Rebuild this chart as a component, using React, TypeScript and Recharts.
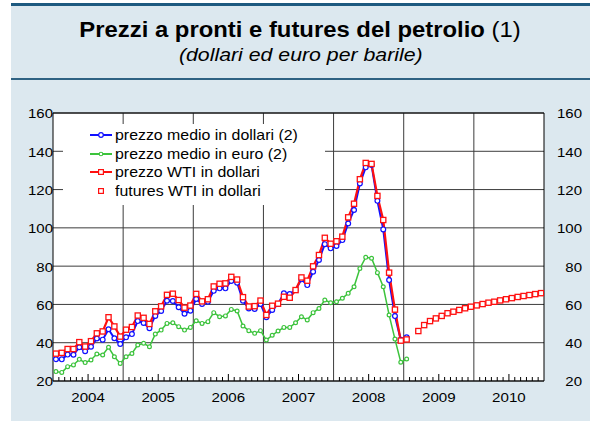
import { LineChart, Line, XAxis, YAxis, CartesianGrid, ReferenceLine, Legend } from 'recharts';

// monthly series, Jan 2004 .. Jan 2009
const PREZZO_MEDIO_USD = [
  31.4, 31.3, 33.8, 33.7, 37.6, 35.6, 37.9, 42.2, 41.6, 47.0, 42.3, 39.3,
  42.8, 44.5, 51.3, 50.3, 47.6, 54.0, 56.6, 61.9, 61.8, 58.5, 55.1, 56.7,
  62.8, 60.2, 61.4, 67.1, 68.4, 68.4, 72.3, 71.3, 61.9, 57.9, 57.6, 60.2,
  53.3, 57.1, 60.2, 65.8, 65.4, 67.5, 73.1, 70.1, 77.1, 83.2, 91.5, 89.3,
  90.5, 93.6, 102.3, 109.3, 123.2, 131.6, 132.8, 114.1, 99.2, 72.7, 53.9, 41.5,
  42.8,
];
const PREZZO_MEDIO_EUR = [
  24.9, 24.5, 27.5, 28.4, 31.3, 29.6, 31.0, 34.1, 33.6, 37.6, 32.7, 29.2,
  32.7, 34.4, 38.8, 39.7, 37.9, 44.5, 46.6, 50.1, 50.4, 48.4, 46.6, 48.0,
  51.5, 50.1, 51.0, 55.7, 53.6, 54.0, 57.4, 56.6, 48.7, 46.3, 44.9, 46.3,
  41.4, 43.9, 46.1, 48.0, 48.0, 50.4, 53.6, 51.9, 55.7, 57.9, 62.3, 60.9,
  61.4, 63.2, 65.8, 69.2, 78.8, 84.6, 84.1, 76.6, 69.2, 54.5, 41.9, 29.8,
  31.5,
];
const PREZZO_WTI = [
  34.3, 34.7, 36.7, 36.7, 40.3, 38.0, 40.8, 44.9, 45.9, 53.3, 48.5, 43.2,
  46.8, 48.2, 54.2, 53.0, 49.8, 56.4, 59.0, 65.0, 65.6, 62.3, 58.3, 59.4,
  65.5, 61.6, 62.7, 69.4, 70.8, 71.0, 74.4, 73.0, 63.8, 58.9, 59.1, 62.0,
  54.5, 59.3, 60.4, 64.0, 63.5, 67.5, 74.1, 72.4, 79.9, 85.8, 94.8, 91.7,
  93.0, 95.4, 105.5, 112.6, 125.4, 133.9, 133.4, 116.7, 104.1, 76.6, 57.3, 41.1,
  41.7,
];
// futures curve, Mar 2009 .. Dec 2010
const FUTURES_WTI = [
  46.1, 49.2, 51.3, 52.7, 54.0, 55.4, 56.2, 57.1, 58.0, 58.8,
  59.5, 60.2, 60.9, 61.4, 62.1, 62.7, 63.3, 63.9, 64.4, 64.9, 65.4, 65.9,
];
const FUTURES_START = 62;

const YEARS = ['2004', '2005', '2006', '2007', '2008', '2009', '2010'];
const Y_TICKS = [20, 40, 60, 80, 100, 120, 140, 160];
const N_MONTHS = YEARS.length * 12;
const MONTH_TICKS = Array.from({ length: N_MONTHS + 1 }, (_, i) => i);
const YEAR_BOUNDS = YEARS.slice(1).map((_, i) => (i + 1) * 12);

const BLUE = '#1010ff';
const GREEN = '#3cc33c';
const RED = '#ff1010';
const GRID = '#3c3c3c';
const FONT = '"Liberation Sans", Arial, Helvetica, sans-serif';
const SX = 1.12;

const data = MONTH_TICKS.slice(0, N_MONTHS).map((i) => ({
  t: i + 0.5,
  usd: PREZZO_MEDIO_USD[i] ?? null,
  eur: PREZZO_MEDIO_EUR[i] ?? null,
  wti: PREZZO_WTI[i] ?? null,
  fut: i >= FUTURES_START ? FUTURES_WTI[i - FUTURES_START] ?? null : null,
}));

const LEGEND = [
  { label: 'prezzo medio in dollari (2)', color: BLUE, kind: 'circle' },
  { label: 'prezzo medio in euro (2)', color: GREEN, kind: 'small' },
  { label: 'prezzo WTI in dollari', color: RED, kind: 'square' },
  { label: 'futures WTI in dollari', color: RED, kind: 'future' },
];

function circleDot(color: string, r: number) {
  return (p: any) =>
    p.cy == null ? <g key={p.key} /> : (
      <circle key={p.key} cx={p.cx} cy={p.cy} r={r} fill="#fff" stroke={color} strokeWidth={1.2} />
    );
}

function squareDot(p: any) {
  if (p.cy == null) return <g key={p.key} />;
  return <rect key={p.key} x={p.cx - 2.6} y={p.cy - 2.6} width={5.2} height={5.2} fill="#fff" stroke={RED} strokeWidth={1.3} />;
}

function MonthTick({ x, y, payload }: any) {
  const m = payload.value;
  const inner = m % 12;
  if (inner === 0) return <g />;
  const len = inner === 6 ? 7 : 4;
  return (
    <g>
      <line x1={x} x2={x} y1={y} y2={y - len} stroke="#000" strokeWidth={1} />
      {inner === 6 && (
        <g transform={`translate(${x},${y + 20.5})`}>
          <text transform={`scale(${SX},1)`} textAnchor="middle" fontSize={13.5} fontFamily={FONT} fill="#000">
            {YEARS[Math.floor(m / 12)]}
          </text>
        </g>
      )}
    </g>
  );
}

function LeftTick({ x, y, payload }: any) {
  return (
    <g transform={`translate(${x},${y})`}>
      <text transform={`scale(${SX},1)`} textAnchor="end" dy="0.4em" fontSize={13.4} fontFamily={FONT} fill="#000">
        {payload.value}
      </text>
    </g>
  );
}

function RightTick({ x, y, payload }: any) {
  return (
    <g transform={`translate(${x + 38},${y})`}>
      <text transform={`scale(${SX},1)`} textAnchor="end" dy="0.4em" fontSize={13.4} fontFamily={FONT} fill="#000">
        {payload.value}
      </text>
    </g>
  );
}

function LegendIcon({ color, kind }: { color: string; kind: string }) {
  return (
    <svg width={49} height={10} style={{ flex: 'none', display: 'block' }}>
      {kind !== 'future' && <line x1={27} x2={49} y1={5} y2={5} stroke={color} strokeWidth={2} />}
      {kind === 'circle' && <circle cx={38} cy={5} r={2.3} fill="#fff" stroke={color} strokeWidth={1.2} />}
      {kind === 'small' && <circle cx={38} cy={5} r={1.8} fill="#fff" stroke={color} strokeWidth={1.1} />}
      {(kind === 'square' || kind === 'future') && (
        <rect x={35.6} y={2.6} width={4.8} height={4.8} fill="#fff" stroke={color} strokeWidth={1.2} />
      )}
    </svg>
  );
}

function LegendBox() {
  return (
    <div style={{ paddingTop: 1.5, fontFamily: FONT }}>
      {LEGEND.map((item) => (
        <div key={item.label} style={{ display: 'flex', alignItems: 'center', height: 18.7 }}>
          <LegendIcon color={item.color} kind={item.kind} />
          <span
            style={{
              marginLeft: 3,
              fontSize: 14.2,
              lineHeight: '18px',
              whiteSpace: 'nowrap',
              display: 'inline-block',
              transform: `scaleX(${SX})`,
              transformOrigin: 'left center',
              color: '#000',
            }}
          >
            {item.label}
          </span>
        </div>
      ))}
    </div>
  );
}

export default function App() {
  return (
    <div style={{ position: 'absolute', left: 0, top: 0, width: 590, height: 421, background: '#fff', overflow: 'hidden', fontFamily: FONT }}>
      <div style={{ position: 'absolute', left: 11, top: 3, right: 0, bottom: 0, background: '#dce8ef', borderTop: '3px solid #1d5a80' }} />
      <div style={{ position: 'absolute', left: 11, right: 0, top: 78, height: 2, background: '#2f6283' }} />
      <div style={{ position: 'absolute', left: 11, right: 0, top: 19.5, textAlign: 'center', fontSize: 21.3, lineHeight: '21.3px', color: '#000' }}>
        <span style={{ display: 'inline-block', transform: `scaleX(${SX})`, whiteSpace: 'nowrap' }}>
          <b>Prezzi a pronti e futures del petrolio</b> (1)
        </span>
      </div>
      <div style={{ position: 'absolute', left: 11, right: 0, top: 44.5, textAlign: 'center', fontSize: 19, lineHeight: '19px', fontStyle: 'italic', color: '#000' }}>
        <span style={{ display: 'inline-block', transform: `scaleX(${SX})`, whiteSpace: 'nowrap' }}>
          (dollari ed euro per barile)
        </span>
      </div>
      <div style={{ position: 'absolute', left: 0, top: 0 }}>
        <LineChart width={590} height={421} data={data} margin={{ top: 113, right: 0, bottom: 0, left: 8 }}>
          <CartesianGrid vertical={false} stroke={GRID} fill="#fff" fillOpacity={1} />
          <XAxis
            type="number"
            dataKey="t"
            domain={[0, N_MONTHS]}
            ticks={MONTH_TICKS}
            interval={0}
            tick={<MonthTick />}
            tickLine={false}
            tickSize={0}
            tickMargin={0}
            axisLine={{ stroke: '#000' }}
            height={40}
            allowDataOverflow
          />
          <YAxis
            domain={[20, 160]}
            ticks={Y_TICKS}
            interval={0}
            width={45}
            tick={<LeftTick />}
            tickLine={false}
            tickSize={0}
            tickMargin={0}
            axisLine={{ stroke: '#000' }}
            allowDataOverflow
          />
          <YAxis
            yAxisId="right"
            orientation="right"
            domain={[20, 160]}
            ticks={Y_TICKS}
            interval={0}
            width={46}
            tick={<RightTick />}
            tickLine={false}
            tickSize={0}
            tickMargin={0}
            axisLine={{ stroke: '#000' }}
            allowDataOverflow
          />
          {YEAR_BOUNDS.map((b) => (
            <ReferenceLine key={b} x={b} stroke={GRID} strokeWidth={1} />
          ))}
          <ReferenceLine y={160} stroke="#000" />
          <Legend
            layout="vertical"
            align="center"
            verticalAlign="middle"
            content={() => <LegendBox />}
            wrapperStyle={{ position: 'absolute', left: 63, top: 124, width: 262, height: 81, background: '#fff', margin: 0 }}
          />
          <Line dataKey="eur" stroke={GREEN} strokeWidth={1.5} dot={circleDot(GREEN, 1.9)} isAnimationActive={false} />
          <Line dataKey="usd" stroke={BLUE} strokeWidth={2} dot={circleDot(BLUE, 2.4)} isAnimationActive={false} />
          <Line dataKey="wti" stroke={RED} strokeWidth={2.2} dot={squareDot} isAnimationActive={false} />
          <Line dataKey="fut" stroke="none" dot={squareDot} isAnimationActive={false} />
        </LineChart>
      </div>
    </div>
  );
}
